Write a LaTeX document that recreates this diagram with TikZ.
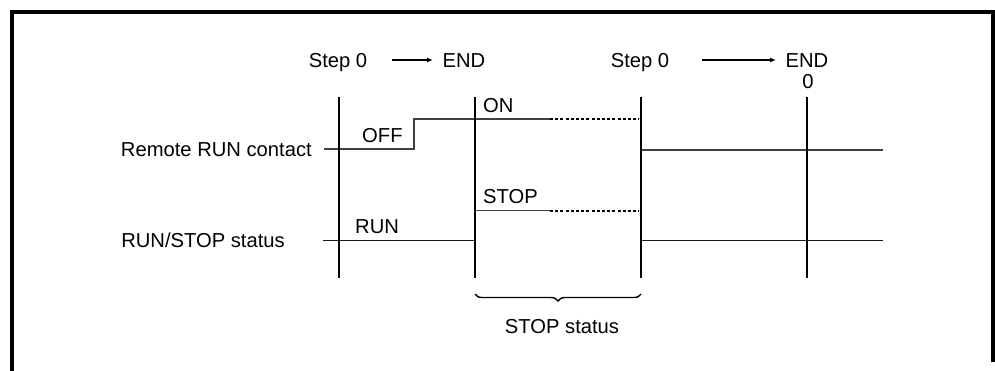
\documentclass[tikz,border=0pt]{standalone}
\usepackage{fontspec}
\setmainfont{Liberation Sans}
\usetikzlibrary{decorations.pathreplacing,arrows.meta}
\tikzset{
  lbl/.style={inner sep=0pt, font=\fontsize{20.2}{23}\selectfont},
  frameline/.style={line width=3.5pt},
  vline/.style={line width=2pt},
  sig/.style={line width=1.4pt, draw=black!75},
  sigdash/.style={line width=2pt, dash pattern=on 3pt off 2.2pt},
  arr/.style={line width=1.3pt, -{Latex[length=6pt,width=5pt]}},
}
\begin{document}
\begin{tikzpicture}[x=1pt,y=-1pt]
\useasboundingbox (0,0) rectangle (995,370);
% frame
\draw[frameline] (12,372) -- (12,12) -- (993,12) -- (993,362);
% header labels
\node[lbl, anchor=base] (s1) at (338,67) {Step 0};
\node[lbl, anchor=base] (e1) at (464,67) {END};
\node[lbl, anchor=base] (s2) at (640,67) {Step 0};
\node[lbl, anchor=base] (e2) at (807,67) {END};
\node[lbl, anchor=base] (z) at (808,88) {0};
\coordinate (a1s) at (392,60); \coordinate (a1e) at (433,60);
\coordinate (a2s) at (702,60); \coordinate (a2e) at (776,60);
\draw[arr] (a1s) -- (a1e);
\draw[arr] (a2s) -- (a2e);
% vertical lines
\coordinate (v1t) at (339,97); \coordinate (v1b) at (339,278);
\coordinate (v2t) at (475,97); \coordinate (v2b) at (475,278);
\coordinate (v3t) at (641,97); \coordinate (v3b) at (641,278);
\coordinate (v4t) at (807,97); \coordinate (v4b) at (807,278);
% signal labels
\node[lbl, anchor=base east] (rrc) at (312,156) {Remote RUN contact};
\node[lbl, anchor=base east] (rss) at (285,247) {RUN/STOP status};
\node[lbl, anchor=base west] (off) at (362,142) {OFF};
\node[lbl, anchor=base west] (on) at (483,112) {ON};
\node[lbl, anchor=base west] (stop) at (483,203) {STOP};
\node[lbl, anchor=base west] (run) at (355,233) {RUN};
\node[lbl, anchor=base] (sst) at (562,333) {STOP status};
% remote RUN contact signal
\coordinate (r0) at (324,149); \coordinate (r1) at (414,149);
\coordinate (r2) at (414,119); \coordinate (r3) at (550,119);
\coordinate (r4) at (639,119);
\draw[sig] (r0) -- (r1) -- (r2) -- (r3);
\draw[sigdash] (r3) -- (r4);
\coordinate (r5) at (641,150); \coordinate (r6) at (883,150);
\draw[sig] (r5) -- (r6);
% RUN/STOP signal
\coordinate (q0) at (323,240.5); \coordinate (q1) at (475,240.5);
\coordinate (q2) at (475,210.5); \coordinate (q3) at (550,210.5);
\coordinate (q4) at (639,210.5);
\draw[sig, draw=black!90] (q0) -- (q1);
\draw[sig] (q2) -- (q3);
\draw[sigdash] (q3) -- (q4);
\coordinate (q5) at (641,240.5); \coordinate (q6) at (883,240.5);
\draw[sig, draw=black!90] (q5) -- (q6);
% verticals on top
\draw[vline] (v1t) -- (v1b);
\draw[vline] (v2t) -- (v2b);
\draw[vline] (v3t) -- (v3b);
\draw[vline] (v4t) -- (v4b);
% brace
\coordinate (b1) at (475,294); \coordinate (b2) at (641,294);
\draw[line width=1.4pt, decorate, decoration={brace, mirror, amplitude=7pt, aspect=0.5}] (b1) -- (b2);
\end{tikzpicture}
\end{document}
